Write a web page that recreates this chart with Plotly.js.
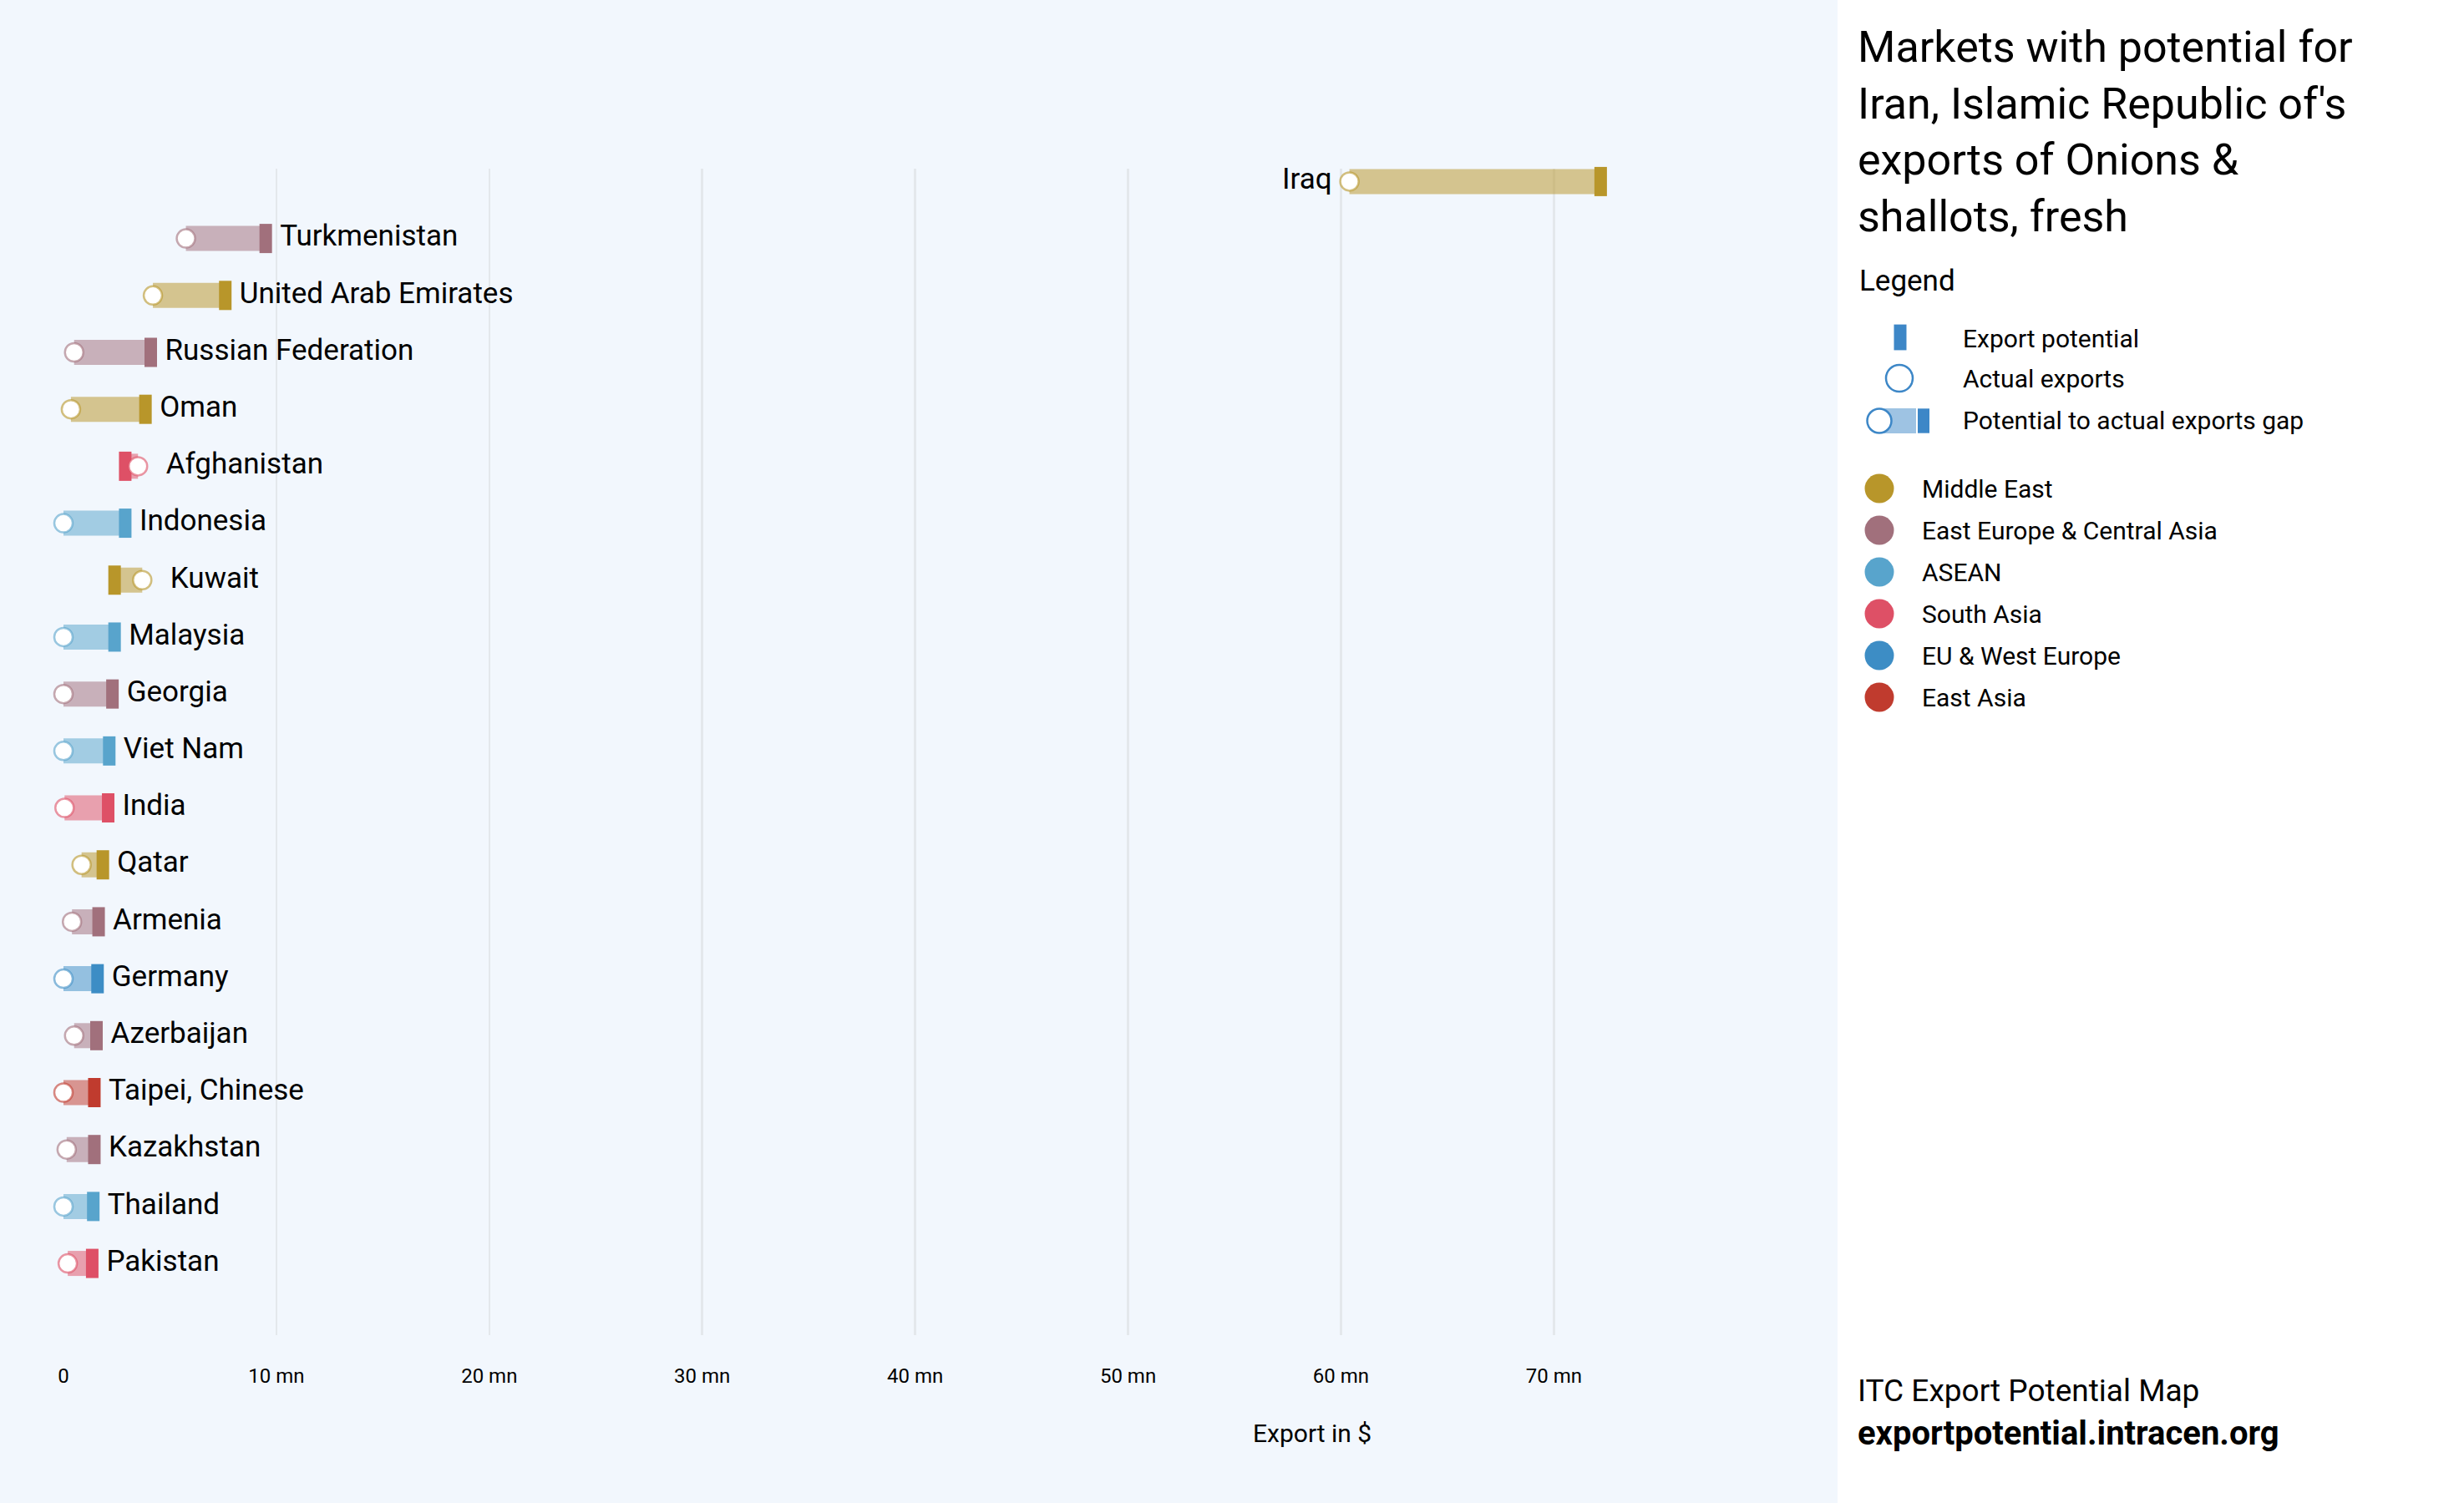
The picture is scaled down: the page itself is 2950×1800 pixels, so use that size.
<!DOCTYPE html>
<html><head><meta charset="utf-8">
<script src="https://cdn.plot.ly/plotly-3.0.1.min.js"></script>
<style>html,body{margin:0;padding:0;background:#f2f7fd}#chart{width:2950px;height:1800px}</style>
</head><body><div id="chart"></div>
<script>
// ---- data ----
const countries = ['Iraq','Turkmenistan','United Arab Emirates','Russian Federation','Oman','Afghanistan','Indonesia','Kuwait','Malaysia','Georgia','Viet Nam','India','Qatar','Armenia','Germany','Azerbaijan','Taipei, Chinese','Kazakhstan','Thailand','Pakistan'];
const regions = ['Middle East','East Europe & Central Asia','Middle East','East Europe & Central Asia','Middle East','South Asia','ASEAN','Middle East','ASEAN','East Europe & Central Asia','ASEAN','South Asia','Middle East','East Europe & Central Asia','EU & West Europe','East Europe & Central Asia','East Asia','East Europe & Central Asia','ASEAN','South Asia'];
const potential = [72.2, 9.5, 7.6, 4.1, 3.85, 2.9, 2.9, 2.4, 2.4, 2.3, 2.15, 2.1, 1.85, 1.65, 1.6, 1.55, 1.45, 1.45, 1.4, 1.35];
const actual = [60.4, 5.75, 4.2, 0.5, 0.35, 3.5, 0.0, 3.7, 0.0, 0.0, 0.0, 0.05, 0.85, 0.4, 0.0, 0.5, 0.0, 0.15, 0.0, 0.2];
const tickValues = [0, 10, 20, 30, 40, 50, 60, 70];
const tickLabels = ['0', '10 mn', '20 mn', '30 mn', '40 mn', '50 mn', '60 mn', '70 mn'];
const regionNames = ['Middle East','East Europe & Central Asia','ASEAN','South Asia','EU & West Europe','East Asia'];
const legendLabels = ['Export potential','Actual exports','Potential to actual exports gap'];
const chartTitle = "Markets with potential for<br>Iran, Islamic Republic of's<br>exports of Onions &<br>shallots, fresh";
const axisTitle = 'Export in $';
const footerLines = ['ITC Export Potential Map', 'exportpotential.intracen.org'];

// ---- styles ----
const regionColor = {
  'Middle East':[184,150,42],
  'East Europe & Central Asia':[161,112,124],
  'ASEAN':[88,164,204],
  'South Asia':[222,80,102],
  'EU & West Europe':[61,141,197],
  'East Asia':[192,59,46]
};
const legendBlue = [61,135,199];
function rgba(c,a){return 'rgba('+c[0]+','+c[1]+','+c[2]+','+a+')';}
const W = 2950, H = 1800;
const FONT = 'Roboto, "Noto Sans", sans-serif';

const traces = [];
// gap segments, one trace per region
regionNames.forEach(function(r){
  const xs = [], ys = [];
  countries.forEach(function(c,i){
    if(regions[i] === r){ xs.push(actual[i], potential[i], null); ys.push(c, c, null); }
  });
  if(xs.length) traces.push({type:'scatter', mode:'lines', x:xs, y:ys, xaxis:'x', yaxis:'y',
    line:{color:rgba(regionColor[r],0.52), width:30}, hoverinfo:'skip', showlegend:false});
});
// export potential bars
traces.push({type:'scatter', mode:'markers', x:potential, y:countries, name:'Export potential', cliponaxis:false,
  marker:{symbol:'line-ns', size:25, color:regions.map(function(r){return rgba(regionColor[r],1);}),
    line:{width:15, color:regions.map(function(r){return rgba(regionColor[r],1);})}},
  showlegend:false});
// actual exports circles
traces.push({type:'scatter', mode:'markers', x:actual, y:countries, name:'Actual exports', cliponaxis:false,
  marker:{symbol:'circle', size:22, color:'#ffffff',
    line:{width:2.5, color:regions.map(function(r){return rgba(regionColor[r],0.6);})}},
  showlegend:false});
// country labels
const labelX = [], labelPos = [], labelSize = [];
countries.forEach(function(c,i){
  if(potential[i] > 50){ labelX.push(actual[i]); labelPos.push('middle left'); labelSize.push(32); }
  else if(actual[i] > potential[i]){ labelX.push(actual[i]); labelPos.push('middle right'); labelSize.push(52); }
  else { labelX.push(potential[i]); labelPos.push('middle right'); labelSize.push(25.6); }
});
traces.push({type:'scatter', mode:'markers+text', x:labelX, y:countries, text:countries,
  textposition:labelPos, textfont:{family:FONT, size:35, color:'#000'},
  marker:{size:labelSize, opacity:0, color:'#000'}, hoverinfo:'skip', showlegend:false, cliponaxis:false});

// ---- legend glyphs (panel axes in pixel units) ----
const lb = rgba(legendBlue,1);
traces.push({type:'scatter', mode:'markers', x:[2275], y:[404], xaxis:'x2', yaxis:'y2', hoverinfo:'skip', showlegend:false,
  marker:{symbol:'line-ns', size:22, color:lb, line:{width:15, color:lb}}});
traces.push({type:'scatter', mode:'markers', x:[2274], y:[453], xaxis:'x2', yaxis:'y2', hoverinfo:'skip', showlegend:false,
  marker:{symbol:'circle', size:32, color:'#fff', line:{width:2.5, color:lb}}});
traces.push({type:'scatter', mode:'lines', x:[2250,2294], y:[504,504], xaxis:'x2', yaxis:'y2', hoverinfo:'skip', showlegend:false,
  line:{color:rgba(legendBlue,0.5), width:30}});
traces.push({type:'scatter', mode:'markers', x:[2250], y:[504], xaxis:'x2', yaxis:'y2', hoverinfo:'skip', showlegend:false,
  marker:{symbol:'circle', size:29, color:'#fff', line:{width:2.5, color:lb}}});
traces.push({type:'scatter', mode:'markers', x:[2303], y:[504], xaxis:'x2', yaxis:'y2', hoverinfo:'skip', showlegend:false,
  marker:{symbol:'line-ns', size:21, color:lb, line:{width:14, color:lb}}});
const regionY = [585, 635, 685, 735, 785, 835];
traces.push({type:'scatter', mode:'markers', x:regionNames.map(function(){return 2250;}), y:regionY, xaxis:'x2', yaxis:'y2',
  hoverinfo:'skip', showlegend:false,
  marker:{symbol:'circle', size:35, color:regionNames.map(function(r){return rgba(regionColor[r],1);}), line:{width:0}}});

const annotations = [];
function ann(text, x, y, size, extra){
  const a = {text:text, x:x, y:y, xref:'x2', yref:'y2', xanchor:'left', yanchor:'middle', showarrow:false,
    font:{family:FONT, size:size, color:'#000'}};
  return Object.assign(a, extra||{});
}
annotations.push(ann('Legend', 2224, 336, 35));
[405, 453, 503].forEach(function(y,i){ annotations.push(ann(legendLabels[i], 2348, y, 30)); });
regionNames.forEach(function(r,i){ annotations.push(ann(r, 2299, regionY[i], 30)); });
annotations.push(ann(footerLines[0], 2222, 1665, 37));
annotations.push(ann('<b>'+footerLines[1]+'</b>', 2222, 1716, 40));
annotations.push({text:axisTitle, x:1571/W, y:1-1716/H, xref:'paper', yref:'paper', xanchor:'center', yanchor:'middle',
  showarrow:false, font:{family:FONT, size:30, color:'#000'}});

const layout = {
  width:W, height:H, margin:{l:0, r:0, t:0, b:0},
  paper_bgcolor:'#f2f7fd', plot_bgcolor:'#f2f7fd', showlegend:false,
  font:{family:FONT, color:'#000'},
  title:{text:chartTitle, font:{family:FONT, size:52, color:'#000'}, x:2224/W, xref:'paper', xanchor:'left',
    y:1-74/H, yref:'container', yanchor:'top'},
  xaxis:{domain:[76/W, 0.7], range:[0, 78.03], tickmode:'array', tickvals:tickValues, ticktext:tickLabels,
    tickfont:{family:FONT, size:24, color:'#000'}, showgrid:true, gridcolor:'#e4e8ec', gridwidth:2.5,
    zeroline:false, showline:false, ticks:'', ticklabelstandoff:32, fixedrange:true},
  yaxis:{domain:[1-1599/H, 1-202/H], type:'category', categoryorder:'array', categoryarray:countries,
    range:[20.26, -0.226], showgrid:false, zeroline:false, showticklabels:false, showline:false, ticks:'', fixedrange:true},
  xaxis2:{domain:[2200/W, 1], range:[2200, 2950], visible:false, anchor:'y2', fixedrange:true},
  yaxis2:{domain:[0, 1], range:[1800, 0], visible:false, anchor:'x2', fixedrange:true},
  shapes:[{type:'rect', xref:'paper', yref:'paper', x0:2200/W, x1:1, y0:0, y1:1, fillcolor:'#ffffff', line:{width:0}, layer:'below'}],
  annotations:annotations
};
Plotly.newPlot('chart', traces, layout, {displayModeBar:false, staticPlot:true});
</script></body></html>
